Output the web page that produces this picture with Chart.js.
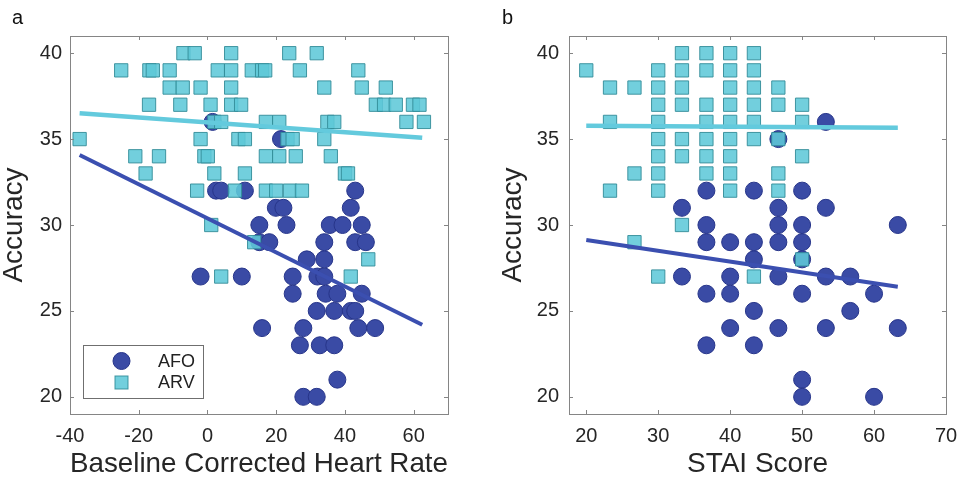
<!DOCTYPE html>
<html>
<head>
<meta charset="utf-8">
<script src="https://cdn.jsdelivr.net/npm/chart.js@4.4.1/dist/chart.umd.min.js"></script>
<style>
  body { margin: 0; background: #fff; width: 962px; height: 481px; overflow: hidden; position: relative;
         font-family: "Liberation Sans", Arial, sans-serif; }
  .panel { position: absolute; top: 0; width: 481px; height: 481px; }
  .tag { position: absolute; top: 7px; font-size: 20px; line-height: 20px; color: #111; }
</style>
</head>
<body>
<div class="panel" style="left:0"><canvas id="hr" width="481" height="481"></canvas></div>
<div class="panel" style="left:481px"><canvas id="stai" width="481" height="481"></canvas></div>
<div class="tag" style="left:12px">a</div>
<div class="tag" style="left:502px">b</div>
<script>
// panel a: accuracy vs baseline corrected heart rate
const hrAfoX = [1.5, 21.4, 2.5, 4, 10.9, 43, 19.9, 22.1, 41.7,
  15.1, 23, 35.6, 39.3, 44.9,
  15.1, 18, 34, 43, 46.1,
  28.9, 34,
  -2, 10, 24.8, 32, 34,
  24.8, 34.4, 37.8, 44.9,
  31.8, 36.9, 41.7, 43,
  15.9, 27.9, 43.9, 48.8,
  26.9, 32.7, 36.9,
  37.8,
  27.9, 31.8];
const hrAfoY = [36, 35, 32, 32, 32, 32, 31, 31, 31,
  30, 30, 30, 30, 30,
  29, 29, 29, 29, 29,
  28, 28,
  27, 27, 27, 27, 27,
  26, 26, 26, 26,
  25, 25, 25, 25,
  24, 24, 24, 24,
  23, 23, 23,
  21,
  20, 20];
const hrArvX = [-7, -3.7, 6.9, 23.8, 31.8,
  -25.1, -16.9, -15.9, -11, 3, 6.9, 12.9, 15.9, 16.8, 26.9, 43.9,
  -11, -7.2, -2, 6.9, 34, 44.9, 51.9,
  -17, -7.9, 0.9, 6.9, 9.8, 49, 51.4, 54.8, 59.8, 61.7,
  2, 4, 17, 20.9, 34.9, 36.9, 57.9, 63,
  -37.2, -2, 9, 10.9, 23.3, 24.8, 34,
  -21, -14.1, -0.9, 0.1, 17, 20.9, 25.7, 35.9,
  -18, 2, 10.9, 40, 40.9,
  -3, 8, 17, 20, 24, 27.5,
  1.1, 13.6, 46.8, 4, 41.7];
const hrArvY = [40, 40, 40, 40, 40,
  39, 39, 39, 39, 39, 39, 39, 39, 39, 39, 39,
  38, 38, 38, 38, 38, 38, 38,
  37, 37, 37, 37, 37, 37, 37, 37, 37, 37,
  36, 36, 36, 36, 36, 36, 36, 36,
  35, 35, 35, 35, 35, 35, 35,
  34, 34, 34, 34, 34, 34, 34, 34,
  33, 33, 33, 33, 33,
  32, 32, 32, 32, 32, 32,
  30, 29, 28, 27, 27];
const hrFitX = [-37.2, 62.5];
const hrFitAfoY = [34.07, 24.19];
const hrFitArvY = [36.5, 35.08];
const hrTicksX = [-40, -20, 0, 20, 40, 60];

// panel b: accuracy vs STAI score
const staiAfoX = [53.3, 46.7, 36.7, 43.3, 50, 33.3, 46.7, 53.3,
  36.7, 46.7, 50, 63.3,
  36.7, 40, 43.3, 46.7, 50,
  43.3, 50,
  33.3, 40, 46.7, 53.3, 56.7,
  36.7, 40, 50, 60,
  43.3, 56.7,
  40, 46.7, 53.3, 63.3,
  36.7, 43.3,
  50, 50, 60];
const staiAfoY = [36, 35, 32, 32, 32, 31, 31, 31,
  30, 30, 30, 30,
  29, 29, 29, 29, 29,
  28, 28,
  27, 27, 27, 27, 27,
  26, 26, 26, 26,
  25, 25,
  24, 24, 24, 24,
  23, 23,
  21, 20, 20];
const staiArvX = [33.3, 36.7, 40, 43.3,
  20, 30, 33.3, 36.7, 40, 43.3,
  23.3, 26.7, 30, 33.3, 40, 43.3, 46.7,
  30, 33.3, 36.7, 40, 43.3, 46.7, 50,
  23.3, 30, 36.7, 40, 43.3, 50,
  30, 33.3, 36.7, 40, 43.3, 46.7,
  30, 33.3, 36.7, 40, 50,
  26.7, 30, 36.7, 40, 46.7,
  23.3, 30, 40, 46.7,
  33.3, 26.7, 50, 30, 43.3];
const staiArvY = [40, 40, 40, 40,
  39, 39, 39, 39, 39, 39,
  38, 38, 38, 38, 38, 38, 38,
  37, 37, 37, 37, 37, 37, 37,
  36, 36, 36, 36, 36, 36,
  35, 35, 35, 35, 35, 35,
  34, 34, 34, 34, 34,
  33, 33, 33, 33, 33,
  32, 32, 32, 32,
  30, 29, 28, 27, 27];
const staiFitX = [20, 63.3];
const staiFitAfoY = [29.13, 26.41];
const staiFitArvY = [35.77, 35.66];
const staiTicksX = [20, 30, 40, 50, 60, 70];

const accTicks = [20, 25, 30, 35, 40];

const afoFill = '#3a4ba5';
const afoEdge = '#27358a';
const arvFill = 'rgba(94, 200, 216, 0.88)';
const arvEdge = 'rgba(50, 140, 152, 0.9)';
const font = '"Liberation Sans", Arial, sans-serif';

function pts(xs, ys) {
  return xs.map((x, i) => ({ x: x, y: ys[i] }));
}

// matlab style box with inward ticks, plus optional legend
const boxPlugin = {
  id: 'box',
  afterDatasetsDraw(chart, args, opts) {
    const ctx = chart.ctx;
    const a = chart.chartArea;
    const sx = chart.scales.x, sy = chart.scales.y;
    ctx.save();
    ctx.strokeStyle = '#858585';
    ctx.lineWidth = 1;
    ctx.strokeRect(a.left + 0.5, a.top + 0.5, a.right - a.left, a.bottom - a.top);
    ctx.beginPath();
    sx.ticks.forEach(t => {
      const px = Math.round(sx.getPixelForValue(t.value)) + 0.5;
      ctx.moveTo(px, a.top); ctx.lineTo(px, a.top + 4);
      ctx.moveTo(px, a.bottom); ctx.lineTo(px, a.bottom - 4);
    });
    sy.ticks.forEach(t => {
      const py = Math.round(sy.getPixelForValue(t.value)) + 0.5;
      ctx.moveTo(a.left, py); ctx.lineTo(a.left + 4, py);
      ctx.moveTo(a.right, py); ctx.lineTo(a.right - 4, py);
    });
    ctx.stroke();
    if (opts.legend) {
      const lx = a.left + 13, ly = a.bottom - 69;
      ctx.fillStyle = '#fff';
      ctx.fillRect(lx, ly, 120, 53);
      ctx.strokeStyle = '#6f6f6f';
      ctx.strokeRect(lx + 0.5, ly + 0.5, 120, 53);
      ctx.beginPath();
      ctx.arc(lx + 38.5, ly + 16, 8.5, 0, Math.PI * 2);
      ctx.fillStyle = afoFill; ctx.fill();
      ctx.strokeStyle = afoEdge; ctx.stroke();
      ctx.fillStyle = arvFill;
      ctx.fillRect(lx + 32, ly + 31, 13, 13);
      ctx.strokeStyle = arvEdge;
      ctx.strokeRect(lx + 32, ly + 31, 13, 13);
      ctx.fillStyle = '#222';
      ctx.font = '18px ' + font;
      ctx.textBaseline = 'middle';
      ctx.fillText('AFO', lx + 75, ly + 17);
      ctx.fillText('ARV', lx + 75, ly + 38);
    }
    ctx.restore();
  }
};

function makeChart(id, cfg) {
  return new Chart(document.getElementById(id), {
    type: 'scatter',
    data: {
      datasets: [
        { data: pts(cfg.fitX, cfg.fitArvY), showLine: true, pointRadius: 0, borderColor: '#63cadd', borderWidth: 4.5, order: 0 },
        { data: pts(cfg.fitX, cfg.fitAfoY), showLine: true, pointRadius: 0, borderColor: '#3b4fb0', borderWidth: 4, order: 0 },
        { label: 'ARV', data: pts(cfg.arvX, cfg.arvY), pointStyle: 'rect', pointRadius: 9.4,
          backgroundColor: arvFill, borderColor: arvEdge, borderWidth: 1, order: 1 },
        { label: 'AFO', data: pts(cfg.afoX, cfg.afoY), pointStyle: 'circle', pointRadius: 8.5,
          backgroundColor: afoFill, borderColor: afoEdge, borderWidth: 1, order: 2 }
      ]
    },
    options: {
      responsive: false,
      animation: false,
      devicePixelRatio: 1,
      layout: { padding: { top: 36, right: cfg.padRight, left: 0, bottom: 0 } },
      plugins: {
        legend: { display: false },
        tooltip: { enabled: false },
        box: { legend: cfg.legend }
      },
      scales: {
        x: {
          type: 'linear', min: cfg.xMin, max: cfg.xMax,
          afterBuildTicks: s => { s.ticks = cfg.ticksX.map(v => ({ value: v })); },
          afterFit: s => { s.height = 67; s.paddingLeft = 0; s.paddingRight = 0; },
          grid: { display: false, drawTicks: false },
          border: { display: false },
          ticks: { padding: 10, color: '#262626', font: { family: font, size: 20 }, maxRotation: 0 },
          title: { display: true, text: cfg.xTitle, color: '#262626', font: { family: font, size: 28, lineHeight: 1 },
                   padding: { top: 0, bottom: 2.4 } }
        },
        y: {
          type: 'linear', min: 19, max: 41,
          afterBuildTicks: s => { s.ticks = accTicks.map(v => ({ value: v })); },
          afterFit: s => { s.width = cfg.yWidth; s.paddingTop = 0; s.paddingBottom = 0; },
          grid: { display: false, drawTicks: false },
          border: { display: false },
          ticks: { padding: cfg.yPad, color: '#262626', font: { family: font, size: 20 } },
          title: { display: true, text: 'Accuracy', color: '#262626', font: { family: font, size: 28, lineHeight: 1 },
                   padding: { top: cfg.yTitlePad, bottom: 0 } }
        }
      }
    },
    plugins: [boxPlugin]
  });
}

makeChart('hr', {
  afoX: hrAfoX, afoY: hrAfoY, arvX: hrArvX, arvY: hrArvY,
  fitX: hrFitX, fitAfoY: hrFitAfoY, fitArvY: hrFitArvY,
  ticksX: hrTicksX, xMin: -40, xMax: 70, xTitle: 'Baseline Corrected Heart Rate',
  padRight: 33, yWidth: 70, yPad: 8, yTitlePad: 0.3, legend: true
});

makeChart('stai', {
  afoX: staiAfoX, afoY: staiAfoY, arvX: staiArvX, arvY: staiArvY,
  fitX: staiFitX, fitAfoY: staiFitAfoY, fitArvY: staiFitArvY,
  ticksX: staiTicksX, xMin: 17.6, xMax: 70, xTitle: 'STAI Score',
  padRight: 16, yWidth: 88, yPad: 10, yTitlePad: 18, legend: false
});
</script>
</body>
</html>
